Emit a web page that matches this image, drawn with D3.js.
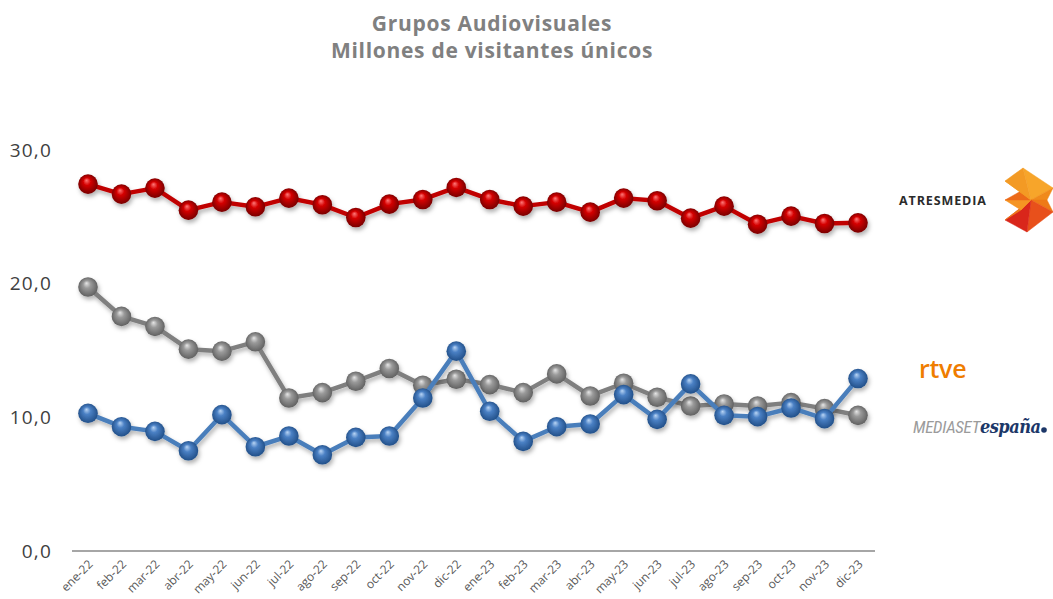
<!DOCTYPE html>
<html>
<head>
<meta charset="utf-8">
<script src="https://cdn.jsdelivr.net/npm/d3@7/dist/d3.min.js"></script>
<style>
  html, body { margin: 0; padding: 0; background: #ffffff; }
  svg { display: block; }
</style>
</head>
<body>
<svg id="chart" width="1053" height="599"></svg>
<script>
// ---------- DATA ----------
const months = ["ene-22","feb-22","mar-22","abr-22","may-22","jun-22","jul-22","ago-22","sep-22","oct-22","nov-22","dic-22",
                "ene-23","feb-23","mar-23","abr-23","may-23","jun-23","jul-23","ago-23","sep-23","oct-23","nov-23","dic-23"];
const atresmedia = [27.45,26.7,27.15,25.5,26.1,25.75,26.4,25.9,24.95,25.95,26.3,27.2,
                    26.3,25.8,26.1,25.35,26.4,26.2,24.9,25.8,24.45,25.05,24.5,24.55];
const mediaset   = [19.75,17.55,16.8,15.1,14.95,15.65,11.45,11.85,12.7,13.65,12.4,12.85,
                    12.45,11.85,13.25,11.6,12.55,11.5,10.85,11.0,10.85,11.1,10.65,10.15];
const rtve       = [10.3,9.3,8.95,7.5,10.2,7.8,8.6,7.2,8.5,8.6,11.45,14.95,
                    10.45,8.2,9.3,9.5,11.7,9.85,12.5,10.15,10.05,10.7,9.9,12.9];
const yTicks = [0,10,20,30];
const titleLines = ["Grupos Audiovisuales","Millones de visitantes únicos"];

const seriesList = [
  { name: "mediaset",   values: mediaset,   line: "#7f7f7f", hi: "#e6e6e6", mid: "#9a9a9a", lo: "#5a5a5a" },
  { name: "atresmedia", values: atresmedia, line: "#c00000", hi: "#ff7a7a", mid: "#d40000", lo: "#6e0000" },
  { name: "rtve",       values: rtve,       line: "#4a7ebb", hi: "#b9d5f5", mid: "#4a80c4", lo: "#1d4a82" }
];

// ---------- SETUP ----------
const svg = d3.select("#chart");
const defs = svg.append("defs");

const x = d3.scalePoint().domain(months).range([88, 858]);
const y = d3.scaleLinear().domain([0, 30]).range([551, 150]);

const f = defs.append("filter").attr("id","shadow").attr("x","-20%").attr("y","-20%").attr("width","140%").attr("height","160%");
f.append("feDropShadow").attr("dx",1.5).attr("dy",3).attr("stdDeviation",2).attr("flood-color","#000").attr("flood-opacity",0.3);

seriesList.forEach(s => {
  const g = defs.append("radialGradient").attr("id","grad-"+s.name)
    .attr("cx","0.5").attr("cy","0.5").attr("r","0.55").attr("fx","0.42").attr("fy","0.3");
  g.append("stop").attr("offset","0%").attr("stop-color", s.hi);
  g.append("stop").attr("offset","35%").attr("stop-color", s.mid);
  g.append("stop").attr("offset","100%").attr("stop-color", s.lo);
});

// ---------- TITLE ----------
titleLines.forEach((t, i) => {
  svg.append("text").attr("x", 492).attr("y", 31 + i * 27).attr("text-anchor","middle")
    .attr("font-family","'Open Sans', sans-serif").attr("font-weight",700).attr("font-size",21)
    .attr("letter-spacing", 0.7).attr("fill","#808080").text(t);
});

// ---------- Y AXIS LABELS ----------
const fmt = v => d3.format(".1f")(v).replace(".", ",");
svg.append("g").selectAll("text").data(yTicks).join("text")
  .attr("x", 52).attr("y", d => y(d)).attr("dy","0.35em").attr("text-anchor","end")
  .attr("font-family","'Open Sans', sans-serif").attr("font-size",19).attr("letter-spacing",1.2).attr("fill","#404040")
  .text(fmt);

// ---------- X AXIS ----------
const xAxis = d3.axisBottom(x).tickSize(0).tickPadding(0);
const gx = svg.append("g").attr("transform", `translate(0,${y(0)})`).call(xAxis);
gx.select(".domain").remove();
gx.append("line").attr("x1", 72).attr("x2", 875).attr("y1", 0).attr("y2", 0)
  .attr("stroke", "#a6a6a6").attr("stroke-width", 2);
gx.selectAll(".tick text")
  .attr("font-family","'Open Sans', sans-serif").attr("font-size",12).attr("fill","#595959")
  .attr("text-anchor","end").attr("dy", null).attr("y", null)
  .attr("transform","translate(5,14) rotate(-45)");

// ---------- SERIES ----------
const lineGen = d3.line().x((d,i) => x(months[i])).y(d => y(d));
seriesList.forEach(s => {
  const g = svg.append("g").attr("filter","url(#shadow)");
  g.append("path").datum(s.values).attr("d", lineGen)
    .attr("fill","none").attr("stroke", s.line).attr("stroke-width", 4.5).attr("stroke-linejoin","round");
  g.selectAll("circle").data(s.values).join("circle")
    .attr("cx", (d,i) => x(months[i])).attr("cy", d => y(d)).attr("r", 9.8)
    .attr("fill", `url(#grad-${s.name})`);
});

// ---------- LOGOS ----------
const logos = svg.append("g");
logos.append("text").attr("x", 899).attr("y", 205)
  .attr("font-family","'Open Sans', sans-serif").attr("font-weight",700).attr("font-size",12.5)
  .attr("fill","#2b2b2b").attr("letter-spacing", 0.9).text("ATRESMEDIA");
// faceted "3" mark
const c0 = [1031, 200];
const outline = [[1023,168],[1053,188],[1047,200],[1053,212],[1027,232],[1005,220],[1021,210],[1005,200],[1021,191],[1005,181]];
const facetColors = ["#f7a52a","#f08a1b","#ee7a17","#e8501b","#d9261b","#ef7d1c","#f59423","#ec6a18","#f6a02a","#f39a24"];
logos.selectAll("polygon").data(outline).join("polygon")
  .attr("points", (p, i) => {
    const q = outline[(i + 1) % outline.length];
    return [c0, p, q].map(v => v.join(",")).join(" ");
  })
  .attr("fill", (d, i) => facetColors[i]).attr("stroke", (d, i) => facetColors[i]).attr("stroke-width", 0.5);

logos.append("text").attr("x", 919).attr("y", 378)
  .attr("font-family","'Open Sans', sans-serif").attr("font-weight",600).attr("font-size",25)
  .attr("fill","#ef7d00").attr("letter-spacing",-0.3).text("rtve");

const ms = logos.append("text").attr("x", 913).attr("y", 433).attr("font-style","italic");
ms.append("tspan").attr("font-family","'Liberation Sans Narrow', 'Roboto Condensed', sans-serif")
  .attr("font-size",17).attr("fill","#9b9b9b").attr("letter-spacing",-0.3).text("MEDIASET");
ms.append("tspan").attr("font-family","'DejaVu Serif Condensed', 'DejaVu Serif', serif")
  .attr("font-weight",700).attr("font-size",18).attr("fill","#1c3768").attr("letter-spacing",-0.5).text("españa");
logos.append("circle").attr("cx", 1044).attr("cy", 430).attr("r", 2.8).attr("fill","#1c3768");
</script>
</body>
</html>
